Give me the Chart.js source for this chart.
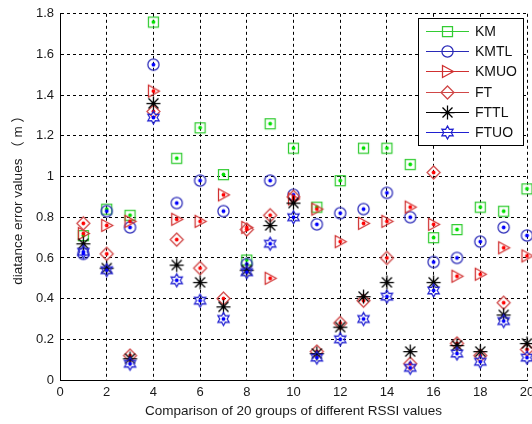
<!DOCTYPE html>
<html>
<head>
<meta charset="utf-8">
<script src="https://cdn.jsdelivr.net/npm/chart.js@4.4.0/dist/chart.umd.min.js"></script>
<style>
  html, body { margin: 0; padding: 0; background: #fff; overflow: hidden; width: 532px; height: 424px; }
  canvas { display: block; }
</style>
</head>
<body>
<canvas id="errChart" width="545" height="424"></canvas>
<script>
const groups = [1, 2, 3, 4, 5, 6, 7, 8, 9, 10, 11, 12, 13, 14, 15, 16, 17, 18, 19, 20];
const km   = [0.71, 0.84, 0.81, 1.76, 1.09, 1.24, 1.01, 0.59, 1.26, 1.14, 0.85, 0.98, 1.14, 1.14, 1.06, 0.70, 0.74, 0.85, 0.83, 0.94];
const kmtl = [0.62, 0.83, 0.75, 1.55, 0.87, 0.98, 0.83, 0.57, 0.98, 0.91, 0.765, 0.82, 0.84, 0.92, 0.80, 0.58, 0.60, 0.68, 0.75, 0.71];
const kmuo = [0.72, 0.76, 0.78, 1.42, 0.79, 0.78, 0.91, 0.75, 0.50, 0.89, 0.84, 0.68, 0.77, 0.78, 0.85, 0.765, 0.51, 0.52, 0.65, 0.61];
const ft   = [0.77, 0.62, 0.12, 1.32, 0.69, 0.55, 0.40, 0.74, 0.81, 0.90, 0.14, 0.28, 0.39, 0.60, 0.08, 1.02, 0.18, 0.12, 0.38, 0.15];
const fttl = [0.67, 0.55, 0.105, 1.36, 0.565, 0.48, 0.36, 0.54, 0.76, 0.87, 0.13, 0.26, 0.41, 0.48, 0.14, 0.48, 0.17, 0.14, 0.32, 0.18];
const ftuo = [0.63, 0.54, 0.08, 1.29, 0.49, 0.39, 0.30, 0.53, 0.67, 0.80, 0.11, 0.20, 0.30, 0.41, 0.06, 0.44, 0.13, 0.09, 0.29, 0.11];
const xTicks = [0, 2, 4, 6, 8, 10, 12, 14, 16, 18, 20];
const yTicks = [0, 0.2, 0.4, 0.6, 0.8, 1, 1.2, 1.4, 1.6, 1.8];

const FONT = '"Liberation Sans", Arial, "Noto Sans CJK SC", sans-serif';

// draws one matlab-like marker centred on (m, m)
function drawShape(g, shape, m) {
  g.beginPath();
  if (shape === 'square') {
    g.rect(m - 5, m - 5, 10, 10);
  } else if (shape === 'circle') {
    g.arc(m, m, 5.6, 0, Math.PI * 2);
  } else if (shape === 'tri') {
    g.moveTo(m + 6, m);
    g.lineTo(m - 5, m - 6);
    g.lineTo(m - 5, m + 6);
    g.closePath();
  } else if (shape === 'diamond') {
    g.moveTo(m, m - 6.5);
    g.lineTo(m + 6.5, m);
    g.lineTo(m, m + 6.5);
    g.lineTo(m - 6.5, m);
    g.closePath();
  } else if (shape === 'star') {
    g.moveTo(m - 7, m); g.lineTo(m + 7, m);
    g.moveTo(m, m - 7); g.lineTo(m, m + 7);
    g.moveTo(m - 5, m - 5); g.lineTo(m + 5, m + 5);
    g.moveTo(m - 5, m + 5); g.lineTo(m + 5, m - 5);
  } else if (shape === 'hex') {
    for (let k = 0; k < 12; k++) {
      const r = k % 2 ? 3.7 : 6.5;
      const a = -Math.PI / 2 + k * Math.PI / 6;
      const px = m + r * Math.cos(a), py = m + r * Math.sin(a);
      if (k) g.lineTo(px, py); else g.moveTo(px, py);
    }
    g.closePath();
  }
  g.stroke();
}

function marker(shape, color, dot) {
  const c = document.createElement('canvas');
  c.width = 17; c.height = 17;
  const g = c.getContext('2d');
  g.strokeStyle = color;
  g.lineWidth = 1.25;
  drawShape(g, shape, 8.5);
  if (dot) {
    g.fillStyle = dot;
    g.beginPath();
    g.arc(8.5, 8.5, 1.9, 0, Math.PI * 2);
    g.fill();
  }
  return c;
}

const series = [
  { label: 'KM',   data: km,   shape: 'square',  color: '#33cc33', dot: '#00e000' },
  { label: 'KMTL', data: kmtl, shape: 'circle',  color: '#2a2ab8', dot: '#0000ff' },
  { label: 'KMUO', data: kmuo, shape: 'tri',     color: '#d03030', dot: '#ff0000' },
  { label: 'FT',   data: ft,   shape: 'diamond', color: '#d04848', dot: '#ff0000' },
  { label: 'FTTL', data: fttl, shape: 'star',    color: '#000000', dot: '#000000' },
  { label: 'FTUO', data: ftuo, shape: 'hex',     color: '#2020d0', dot: '#0000ff' },
];

const boxLegend = {
  id: 'boxLegend',
  afterDraw(chart) {
    const g = chart.ctx;
    g.save();
    g.fillStyle = '#fff';
    g.strokeStyle = '#000';
    g.lineWidth = 1;
    g.fillRect(418.5, 18.5, 105, 127);
    g.strokeRect(418.5, 18.5, 105, 127);
    g.font = '14px ' + FONT;
    g.textBaseline = 'middle';
    series.forEach((s, i) => {
      const y = Math.round(31 + i * 20.2) + 0.5;
      g.strokeStyle = s.color;
      g.beginPath();
      g.moveTo(426, y); g.lineTo(469, y);
      g.stroke();
      g.drawImage(marker(s.shape, s.color, null), 447.5 - 8.5, y - 8.5);
      g.fillStyle = '#111';
      g.fillText(s.label, 475, y + 1);
    });
    g.restore();
  }
};

new Chart(document.getElementById('errChart'), {
  type: 'scatter',
  data: {
    datasets: series.map((s, i) => ({
      label: s.label,
      data: groups.map((x, j) => ({ x, y: s.data[j] })),
      pointStyle: marker(s.shape, s.color, s.dot),
      pointRadius: 6,
      borderColor: s.color,
      backgroundColor: s.color,
      clip: false,
      order: series.length - i,
    })),
  },
  options: {
    responsive: false,
    animation: false,
    layout: { padding: { left: 0, top: 11, right: 18, bottom: 0 } },
    plugins: { legend: { display: false }, tooltip: { enabled: false } },
    scales: {
      x: {
        type: 'linear',
        min: 0,
        max: 20,
        afterBuildTicks: s => { s.ticks = xTicks.map(v => ({ value: v })); },
        afterFit: s => { s.height = 44; },
        ticks: { color: '#1a1a1a', font: { family: FONT, size: 13 }, padding: 5, maxRotation: 0, autoSkip: false },
        grid: { color: '#000', lineWidth: 1, drawTicks: false },
        border: { color: '#000', width: 1, dash: [3, 3] },
        title: {
          display: true,
          text: 'Comparison of 20 groups of different RSSI values',
          color: '#1a1a1a',
          font: { family: FONT, size: 13.5 },
          padding: { top: 0, bottom: 5 },
        },
      },
      y: {
        min: 0,
        max: 1.8,
        afterBuildTicks: s => { s.ticks = yTicks.map(v => ({ value: v })); },
        afterFit: s => { s.width = 60; },
        ticks: {
          color: '#1a1a1a',
          font: { family: FONT, size: 13 },
          padding: 6,
          callback: v => String(Number(v.toFixed(1))),
        },
        grid: { color: '#000', lineWidth: 1, drawTicks: false },
        border: { color: '#000', width: 1, dash: [3, 3] },
        title: {
          display: true,
          text: 'diatance error values （ m ）',
          color: '#1a1a1a',
          font: { family: FONT, size: 13.5 },
          padding: { top: 10, bottom: 0 },
        },
      },
    },
  },
  plugins: [boxLegend],
});
</script>
</body>
</html>
